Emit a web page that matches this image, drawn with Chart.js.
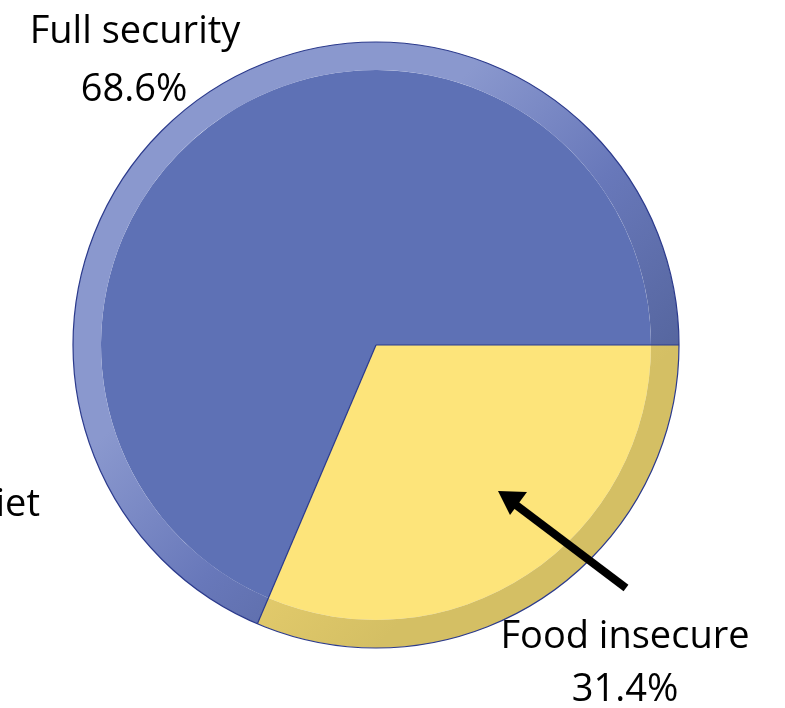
<!DOCTYPE html>
<html lang="en">
<head>
  <meta charset="UTF-8">
  <title>Food security</title>
  <script src="https://cdn.jsdelivr.net/npm/chart.js"></script>
  <style>
    html, body { margin: 0; padding: 0; background: #fff; }
    #wrap { width: 785px; height: 708px; }
  </style>
</head>
<body>
  <div id="wrap"><canvas id="grafico" width="785" height="708"></canvas></div>

  <script>
    // datos
    const categorias = ["Food insecure", "Full security"];
    const valores = [31.4, 68.6];
    const etiquetas = ["31.4%", "68.6%"];

    const colorBase = ["#FDE47A", "#5E71B5"];
    const ringLight = ["#F3DC86", "#8A98CE"];
    const ringDark = ["#D4BF64", "#56669F"];

    function ringColor(ctx) {
      const chart = ctx.chart;
      const a = chart.chartArea;
      if (!a) return colorBase[ctx.dataIndex];
      const g = chart.ctx.createLinearGradient(a.left, a.top, a.right, a.bottom);
      const i = ctx.dataIndex;
      g.addColorStop(0, ringLight[i]);
      g.addColorStop(0.35, ringLight[i]);
      g.addColorStop(0.55, i === 1 ? "#6878BA" : "#E8CF6E");
      g.addColorStop(0.75, ringDark[i]);
      g.addColorStop(1, ringDark[i]);
      return g;
    }

    // contorno y textos
    const extras = {
      id: "extras",
      afterDatasetsDraw(chart) {
        const c = chart.ctx;
        const meta = chart.getDatasetMeta(0);
        const arc = meta.data[0];
        const cx = arc.x, cy = arc.y, r = arc.outerRadius;
        c.save();
        c.strokeStyle = "#2B3A8C";
        c.lineWidth = 1.2;
        c.beginPath();
        c.arc(cx, cy, r, 0, Math.PI * 2);
        c.stroke();
        meta.data.forEach(el => {
          c.beginPath();
          c.moveTo(cx, cy);
          c.lineTo(cx + r * Math.cos(el.startAngle), cy + r * Math.sin(el.startAngle));
          c.stroke();
        });

        // flecha
        c.strokeStyle = "#000";
        c.fillStyle = "#000";
        c.lineWidth = 8;
        c.beginPath();
        c.moveTo(626, 588);
        c.lineTo(516, 505);
        c.stroke();
        c.beginPath();
        c.moveTo(498, 491);
        c.lineTo(527, 492);
        c.lineTo(510, 515);
        c.closePath();
        c.fill();

        c.font = "38px 'Open Sans', sans-serif";
        c.textAlign = "center";
        c.textBaseline = "alphabetic";
        c.fillText(categorias[1], 135, 43);
        c.fillText(etiquetas[1], 134, 101);
        c.fillText(categorias[0], 625, 648);
        c.fillText(etiquetas[0], 625, 701);
        c.textAlign = "right";
        c.fillText("Poor diet", 40, 516);
        c.restore();
      }
    };

    new Chart(document.getElementById("grafico"), {
      type: "pie",
      data: {
        labels: categorias,
        datasets: [
          { data: valores, backgroundColor: ringColor, borderWidth: 0, weight: 28 },
          { data: valores, backgroundColor: colorBase, borderWidth: 0, weight: 275 }
        ]
      },
      options: {
        responsive: false,
        animation: false,
        rotation: 90,
        layout: { padding: { left: 73, right: 106, top: 42, bottom: 60 } },
        plugins: {
          legend: { display: false },
          tooltip: { enabled: false }
        }
      },
      plugins: [extras]
    });
  </script>
</body>
</html>
